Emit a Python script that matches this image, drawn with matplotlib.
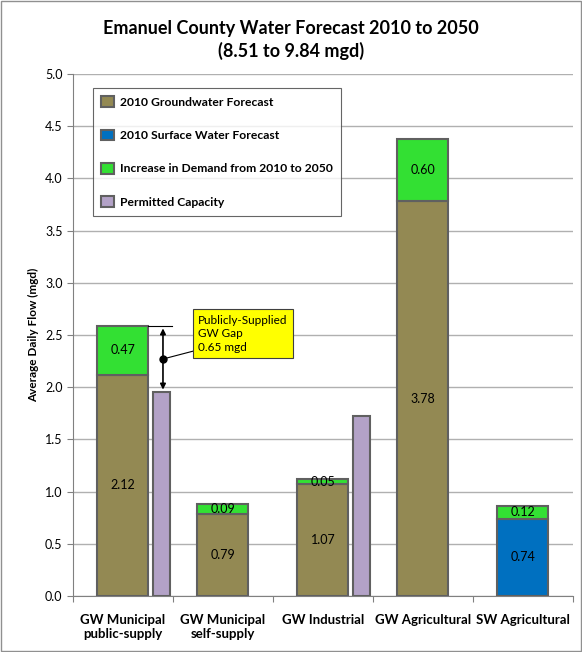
import matplotlib.pyplot as plt
import numpy as np

plt.rcParams['font.family'] = ['Lato', 'DejaVu Sans']

# ---------------- dados ----------------
categorias = ['GW Municipal\npublic-supply', 'GW Municipal\nself-supply', 'GW Industrial',
              'GW Agricultural', 'SW Agricultural']
gw_2010 = [2.12, 0.79, 1.07, 3.78, 0.0]
sw_2010 = [0.0, 0.0, 0.0, 0.0, 0.74]
aumento = [0.47, 0.09, 0.05, 0.60, 0.12]
capacidade = [1.95, 0.0, 1.72, 0.0, 0.0]
gap = 0.65

cor_gw = '#938953'
cor_sw = '#0070c0'
cor_aum = '#33e033'
cor_cap = '#b3a2c7'
borda = '#606060'

x = np.arange(len(categorias))
larg = 0.51

fig = plt.figure(figsize=(5.82, 6.52), dpi=100)
ax = fig.add_axes([0.1254, 0.0859, 0.859, 0.8006])

gw = np.array(gw_2010)
sw = np.array(sw_2010)
cap = np.array(capacidade)
base = gw + sw

# so desenha as barras com valor > 0
m_gw = gw > 0
m_sw = sw > 0
m_cap = cap > 0
ax.bar(x[m_gw], gw[m_gw], larg, color=cor_gw, edgecolor=borda, linewidth=1.5, zorder=3,
       label='2010 Groundwater Forecast')
ax.bar(x[m_sw], sw[m_sw], larg, color=cor_sw, edgecolor=borda, linewidth=1.5, zorder=3,
       label='2010 Surface Water Forecast')
ax.bar(x, aumento, larg, bottom=base, color=cor_aum, edgecolor=borda, linewidth=1.5, zorder=3,
       label='Increase in Demand from 2010 to 2050')
ax.bar(x[m_cap] + 0.39, cap[m_cap], 0.17, color=cor_cap, edgecolor=borda, linewidth=1.5,
       zorder=3, label='Permitted Capacity')

# rotulos dentro das barras
for i in range(len(x)):
    ax.text(x[i], base[i] / 2, f'{base[i]:.2f}', ha='center', va='center', fontsize=9, zorder=4)
    ax.text(x[i], base[i] + aumento[i] / 2, f'{aumento[i]:.2f}', ha='center', va='center',
            fontsize=9, zorder=4)

# anotacao do gap
topo = base[0] + aumento[0]
xa = 0.40
ax.plot([larg / 2, xa + 0.09], [topo, topo], color='black', lw=0.8, zorder=5)
ax.annotate('', xy=(xa, capacidade[0]), xytext=(xa, topo),
            arrowprops=dict(arrowstyle='<|-|>', color='black', lw=1.2, mutation_scale=8), zorder=5)
meio = (topo + capacidade[0]) / 2
ax.plot([xa], [meio], 'o', color='black', ms=5, zorder=6)
ax.plot([xa, 0.72], [meio, 2.35], color='black', lw=0.8, zorder=5)
ax.text(0.75, 2.51, 'Publicly-Supplied\nGW Gap\n' + f'{gap:.2f} mgd', fontsize=8.5, va='center',
        ha='left', linespacing=1.3, zorder=6,
        bbox=dict(boxstyle='square,pad=0.45', facecolor='#ffff00', edgecolor='#404040', lw=0.8))

ax.set_xlim(-0.5, 4.5)
ax.set_ylim(0, 5.0)
ax.set_yticks(np.arange(0, 5.01, 0.5))
ax.set_yticklabels([f'{v:.1f}' for v in np.arange(0, 5.01, 0.5)], fontsize=9)
ax.set_xticks(np.arange(-0.5, 4.51, 1.0))
ax.set_xticklabels([])
ax.set_xticks(x, minor=True)
ax.set_xticklabels(categorias, minor=True, fontsize=9.5, fontweight='bold')
ax.tick_params(axis='x', which='minor', length=0, pad=13)
ax.tick_params(axis='x', which='major', length=4, color='#808080')
ax.tick_params(axis='y', length=4, color='#808080')
ax.set_ylabel('Average Daily Flow (mgd)', fontsize=8.5, fontweight='bold')
ax.grid(axis='y', color='#b0b0b0', lw=1, zorder=0)
for s in ['top', 'right']:
    ax.spines[s].set_visible(False)
ax.spines['left'].set_color('#808080')
ax.spines['bottom'].set_color('#808080')

leg = ax.legend(loc='upper left', bbox_to_anchor=(0.028, 0.985), frameon=True,
                fancybox=False, edgecolor='#404040', labelspacing=1.8, handlelength=1.0,
                handleheight=1.0, handletextpad=0.5, borderpad=0.7,
                prop={'weight': 'bold', 'size': 8.7})
leg.get_frame().set_linewidth(0.8)

fig.suptitle('Emanuel County Water Forecast 2010 to 2050\n(8.51 to 9.84 mgd)', y=0.97,
             fontsize=13, fontweight='bold', linespacing=1.35)

fig.patches.append(plt.Rectangle((0.002, 0.002), 0.996, 0.996, transform=fig.transFigure,
                                 fill=False, edgecolor='#909090', lw=1))

fig.savefig('out.png', dpi=100)
